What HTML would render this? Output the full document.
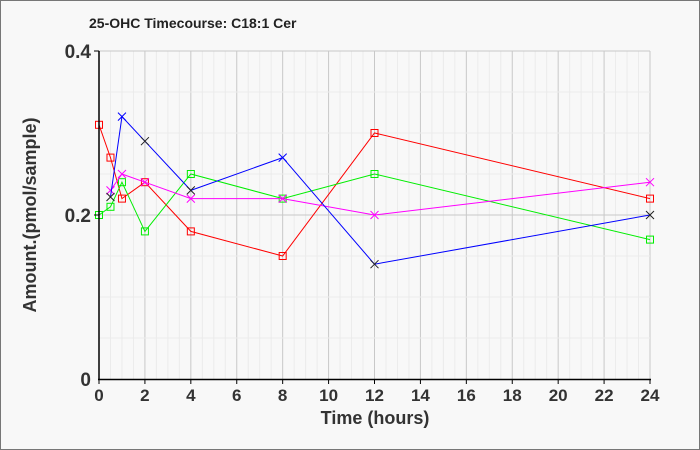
<!DOCTYPE html>
<html><head><meta charset="utf-8"><style>
body{margin:0;background:#fff}
svg{display:block;font-family:"Liberation Sans",Arial,sans-serif}
</style></head><body>
<svg id="s" width="700" height="450" xmlns="http://www.w3.org/2000/svg">
<rect x="0.5" y="0.5" width="699" height="449" fill="#f8f8f8" stroke="#777"/>
<text x="89" y="28" font-size="14" font-weight="bold" fill="#222">25-OHC Timecourse: C18:1 Cer</text>
<g id="grid"></g>
<g id="data"></g>
<line x1="99" y1="51" x2="99" y2="380" stroke="#000" stroke-width="1.5"/>
<line x1="98" y1="379.5" x2="651" y2="379.5" stroke="#000" stroke-width="1.5"/>
<g font-size="19" font-weight="bold" fill="#333" text-anchor="end">
<text x="91" y="58">0.4</text><text x="91" y="222">0.2</text><text x="91" y="386">0</text>
</g>
<g id="xt" font-size="17" font-weight="bold" fill="#333" text-anchor="middle"></g>
<text x="375" y="424" font-size="18" font-weight="bold" fill="#333" text-anchor="middle">Time (hours)</text>
<text transform="translate(36,215) rotate(-90)" font-size="18" font-weight="bold" fill="#333" text-anchor="middle">Amount.(pmol/sample)</text>
</svg>
<script>
const X=t=>99+t*551/24, Y=v=>379-v*820;
const ns="http://www.w3.org/2000/svg";
function el(p,n,a){const e=document.createElementNS(ns,n);for(const k in a)e.setAttribute(k,a[k]);p.appendChild(e);return e;}
const g=document.getElementById('grid');
for(let t=0.5;t<=24;t+=0.5){const maj=(t%2===0);el(g,'line',{x1:X(t),x2:X(t),y1:51,y2:379,stroke:maj?'#c8c8c8':'#ebebeb'});}
for(let v=0.05;v<=0.4001;v+=0.05){const maj=Math.abs(v-0.2)<1e-6||Math.abs(v-0.4)<1e-6;el(g,'line',{x1:99,x2:650,y1:Y(v),y2:Y(v),stroke:maj?'#c8c8c8':'#ebebeb'});}
const xt=document.getElementById('xt');
for(let t=0;t<=24;t+=2){el(xt,'line',{x1:X(t),x2:X(t),y1:379,y2:384,stroke:'#000'});const tx=el(xt,'text',{x:X(t),y:401});tx.textContent=t;}
el(xt,'line',{x1:94,x2:99,y1:51,y2:51,stroke:'#000'});el(xt,'line',{x1:94,x2:99,y1:215,y2:215,stroke:'#000'});
const d=document.getElementById('data');
const S=[
{c:'#ff0000',m:'sq',p:[[0,.31],[.5,.27],[1,.22],[2,.24],[4,.18],[8,.15],[12,.30],[24,.22]]},
{c:'#00ee00',m:'sq',p:[[0,.20],[.5,.21],[1,.24],[2,.18],[4,.25],[8,.22],[12,.25],[24,.17]]},
{c:'#ff00ff',m:'x',p:[[.5,.23],[1,.25],[2,.24],[4,.22],[8,.22],[12,.20],[24,.24]]},
{c:'#0000ff',m:'x',p:[[.5,.222],[1,.32],[2,.29],[4,.23],[8,.27],[12,.14],[24,.20]],mc:['#222','#0000ff','#222','#222','#0000ff','#222','#222']}
];
S.forEach(s=>{
 el(d,'polyline',{points:s.p.map(q=>X(q[0])+','+Y(q[1])).join(' '),fill:'none',stroke:s.c,'stroke-width':1});
 s.p.forEach((q,i)=>{const x=X(q[0]),y=Y(q[1]);const mc=s.mc?s.mc[i]:s.c;
  if(s.m==='sq')el(d,'rect',{x:x-3.5,y:y-3.5,width:7,height:7,fill:'none',stroke:mc});
  else{el(d,'path',{d:`M${x-4},${y-4}L${x+4},${y+4}M${x-4},${y+4}L${x+4},${y-4}`,stroke:mc});}
 });
});
</script>
</body></html>
